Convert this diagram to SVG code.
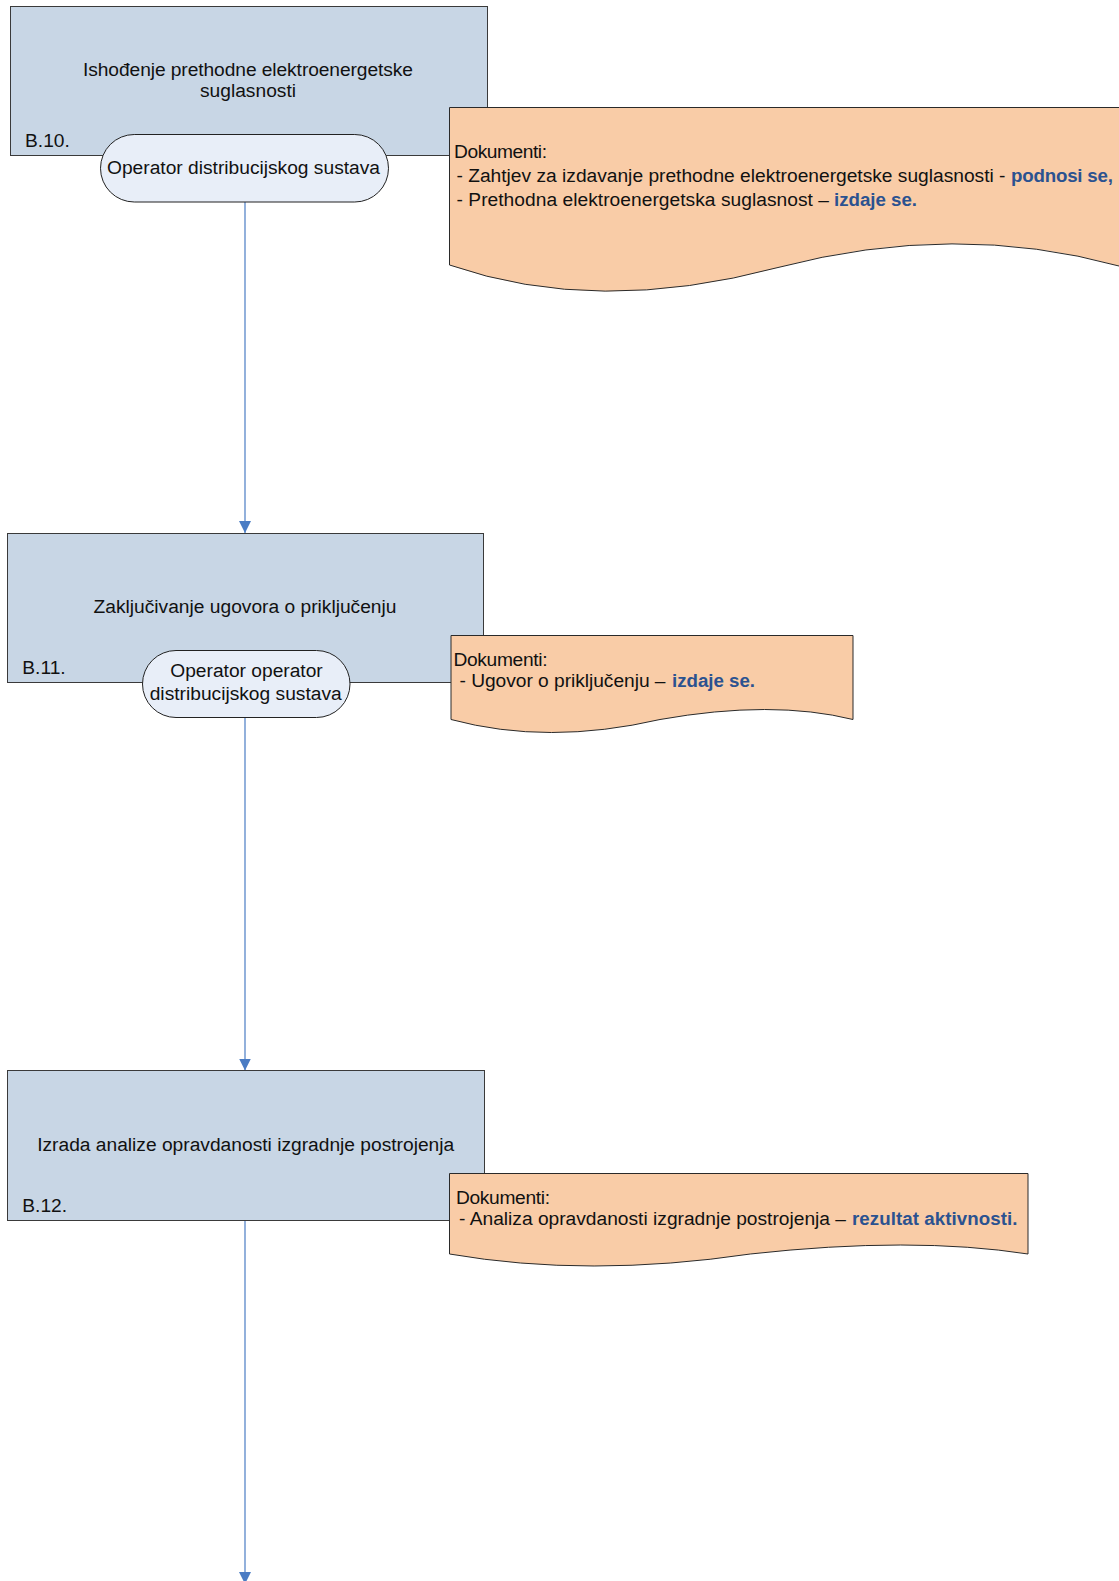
<svg xmlns="http://www.w3.org/2000/svg" width="1119" height="1581" viewBox="0 0 1119 1581">
  <defs>
    <style>
      .box { fill: #C8D6E5; stroke: #3A3A3A; stroke-width: 1; }
      .pill { fill: #E8EEF8; stroke: #222222; stroke-width: 1; }
      .doc { fill: #F9CCA7; stroke: #2A2A2A; stroke-width: 1; }
      .conn { stroke: #4A7CC4; stroke-width: 1.2; fill: none; marker-end: url(#arrow); }
      text { font-family: "Liberation Sans", Arial, sans-serif; font-size: 19.2px; fill: #111111; }
      .mid { text-anchor: middle; }
      .hl { font-weight: bold; fill: #2B5290; font-size: 18.7px; }
    </style>
    <marker id="arrow" markerUnits="userSpaceOnUse" markerWidth="12" markerHeight="12" refX="12" refY="6" orient="auto">
      <path d="M0,0 L12,6 L0,12 Z" fill="#4A7CC4"/>
    </marker>
  </defs>

  <g id="connectors">
    <line class="conn" x1="245" y1="202" x2="245" y2="533"/>
    <line class="conn" x1="245" y1="718" x2="245" y2="1070.5"/>
    <line class="conn" x1="245" y1="1221" x2="245" y2="1584"/>
  </g>

  <g id="node-b10">
    <rect class="box" x="10.5" y="6.5" width="477" height="149"/>
    <text class="mid" x="248" y="76" textLength="330">Ishođenje prethodne elektroenergetske</text>
    <text class="mid" x="248" y="97">suglasnosti</text>
    <text x="25" y="147">B.10.</text>
  </g>
  <g id="role-b10">
    <rect class="pill" x="100.5" y="134.5" width="288" height="67.5" rx="33.75" ry="33.75"/>
    <text class="mid" x="243.5" y="174">Operator distribucijskog sustava</text>
  </g>
  <g id="doc-b10">
    <path class="doc" d="M449.5,107.5 L449.5,265 Q596.5,316 778,267.5 Q955.5,221 1119,266 L1135,272 L1135,107.5 Z"/>
    <text x="454" y="157.5" textLength="93">Dokumenti:</text>
    <text y="182"><tspan x="456.5" textLength="549">- Zahtjev za izdavanje prethodne elektroenergetske suglasnosti -</tspan><tspan class="hl" x="1011" textLength="102">podnosi se,</tspan></text>
    <text y="205.5"><tspan x="456.5" textLength="372.5">- Prethodna elektroenergetska suglasnost –</tspan><tspan class="hl" x="834" textLength="83">izdaje se.</tspan></text>
  </g>

  <g id="node-b11">
    <rect class="box" x="7.5" y="533.5" width="476" height="149"/>
    <text class="mid" x="245" y="613.3">Zaključivanje ugovora o priključenju</text>
    <text x="22.3" y="674">B.11.</text>
  </g>
  <g id="role-b11">
    <rect class="pill" x="142.5" y="650.5" width="207.5" height="67" rx="33.5" ry="33.5"/>
    <text class="mid" x="246.5" y="677.3">Operator operator</text>
    <text class="mid" x="245.7" y="700">distribucijskog sustava</text>
  </g>
  <g id="doc-b11">
    <path class="doc" d="M451,635.5 L451,719.5 Q547.5,745.5 660,719.5 Q772.6,699.5 853,719.5 L853,635.5 Z"/>
    <text x="453.5" y="666" textLength="94">Dokumenti:</text>
    <text y="687"><tspan x="459.5" textLength="206">- Ugovor o priključenju –</tspan><tspan class="hl" x="672" textLength="83">izdaje se.</tspan></text>
  </g>

  <g id="node-b12">
    <rect class="box" x="7.5" y="1070.5" width="477" height="150"/>
    <text class="mid" x="245.7" y="1150.7">Izrada analize opravdanosti izgradnje postrojenja</text>
    <text x="22.3" y="1211.7">B.12.</text>
  </g>
  <g id="doc-b12">
    <path class="doc" d="M449.5,1173.5 L449.5,1254 Q588.3,1278 750.3,1254 Q912.3,1236 1028,1254 L1028,1173.5 Z"/>
    <text x="456" y="1203.5" textLength="94">Dokumenti:</text>
    <text y="1224.5"><tspan x="459" textLength="387">- Analiza opravdanosti izgradnje postrojenja –</tspan><tspan class="hl" x="852" textLength="165.5">rezultat aktivnosti.</tspan></text>
  </g>
</svg>
